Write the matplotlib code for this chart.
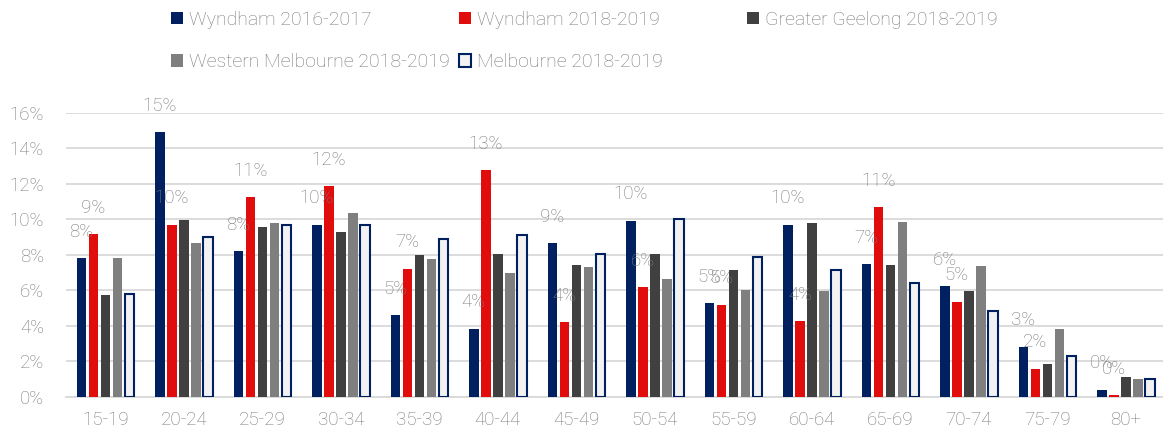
import numpy as np
import matplotlib
matplotlib.use("Agg")
import matplotlib.pyplot as plt
from matplotlib.patches import Patch

plt.rcParams['font.family'] = ['Roboto', 'DejaVu Sans']
plt.rcParams['font.weight'] = 'light'

# age groups and series (percent of population)
ages = ["15-19", "20-24", "25-29", "30-34", "35-39", "40-44", "45-49",
        "50-54", "55-59", "60-64", "65-69", "70-74", "75-79", "80+"]
wyndham_1617 = [7.8, 14.9, 8.2, 9.7, 4.6, 3.85, 8.65, 9.93, 5.27, 9.7, 7.46, 6.22, 2.83, 0.41]
wyndham_1819 = [9.16, 9.7, 11.24, 11.88, 7.23, 12.76, 4.22, 6.17, 5.2, 4.26, 10.67, 5.36, 1.59, 0.11]
geelong_1819 = [5.75, 9.98, 9.55, 9.29, 8.01, 8.07, 7.43, 8.07, 7.17, 9.81, 7.43, 5.94, 1.87, 1.12]
west_melb_1819 = [7.8, 8.65, 9.8, 10.38, 7.75, 6.98, 7.34, 6.62, 6.04, 5.94, 9.87, 7.39, 3.84, 1.0]
melbourne_1819 = [5.8, 9.0, 9.66, 9.68, 8.89, 9.1, 8.07, 10.04, 7.9, 7.13, 6.43, 4.82, 2.3, 1.0]

names = ["Wyndham 2016-2017", "Wyndham 2018-2019", "Greater Geelong 2018-2019",
         "Western Melbourne 2018-2019", "Melbourne 2018-2019"]
series = [wyndham_1617, wyndham_1819, geelong_1819, west_melb_1819, melbourne_1819]
fills = ["#002060", "#e10d0d", "#404040", "#7f7f7f", "#f2f2f2"]
edges = [None, None, None, None, "#002060"]

text_grey = "#7a7a7a"
grid_grey = "#d9d9d9"

fig = plt.figure(figsize=(11.63, 4.34), dpi=100)
ax = fig.add_axes([0.0568, 0.0853, 0.945, 0.655])

x = np.arange(len(ages))
step = 0.153
width = 0.12
handles = []
for i, (vals, fc, ec) in enumerate(zip(series, fills, edges)):
    pos = x + (i - 2) * step
    if ec:
        bars = ax.bar(pos, vals, width, color=fc, edgecolor=ec, linewidth=1.5, zorder=3)
    else:
        bars = ax.bar(pos, vals, width, color=fc, zorder=3)
    handles.append(Patch(facecolor=fc, edgecolor=ec if ec else fc, linewidth=1.5 if ec else 0))
    # data labels only on the two Wyndham series
    if i < 2:
        for b, v in zip(bars, vals):
            ax.annotate(f"{v:.0f}%", (b.get_x() + b.get_width() / 2, v),
                        xytext=(0, 19), textcoords="offset points",
                        ha="center", va="center", fontsize=13.5,
                        color=text_grey, clip_on=False, zorder=4)

ax.set_ylim(0, 16)
ax.set_xlim(-0.5, len(ages) - 0.5)
ax.set_yticks(np.arange(0, 17, 2))
ax.set_yticklabels([f"{t}%" for t in range(0, 17, 2)])
ax.set_xticks(x)
ax.set_xticklabels(ages)
ax.tick_params(axis="both", length=0, labelsize=13.5, labelcolor=text_grey)
ax.tick_params(axis="x", pad=10)
ax.tick_params(axis="y", pad=16)
ax.grid(axis="y", color=grid_grey, linewidth=1.3, zorder=0)
for side in ["top", "right", "left"]:
    ax.spines[side].set_visible(False)
ax.spines["bottom"].set_color(grid_grey)
ax.spines["bottom"].set_linewidth(1.3)

# legend: equal-width columns, so one small legend per column
columns = [[0, 3], [1, 4], [2]]
col_x = [171, 459, 747]
for cols, cx in zip(columns, col_x):
    leg = fig.legend([handles[k] for k in cols], [names[k] for k in cols],
                     loc="upper left", bbox_to_anchor=(cx / 1163, 0.975),
                     frameon=False, fontsize=14, handlelength=0.62, handleheight=0.62,
                     handletextpad=0.3, labelspacing=1.26,
                     borderpad=0, borderaxespad=0)
    for t in leg.get_texts():
        t.set_color(text_grey)

fig.savefig("out.png", dpi=100)
